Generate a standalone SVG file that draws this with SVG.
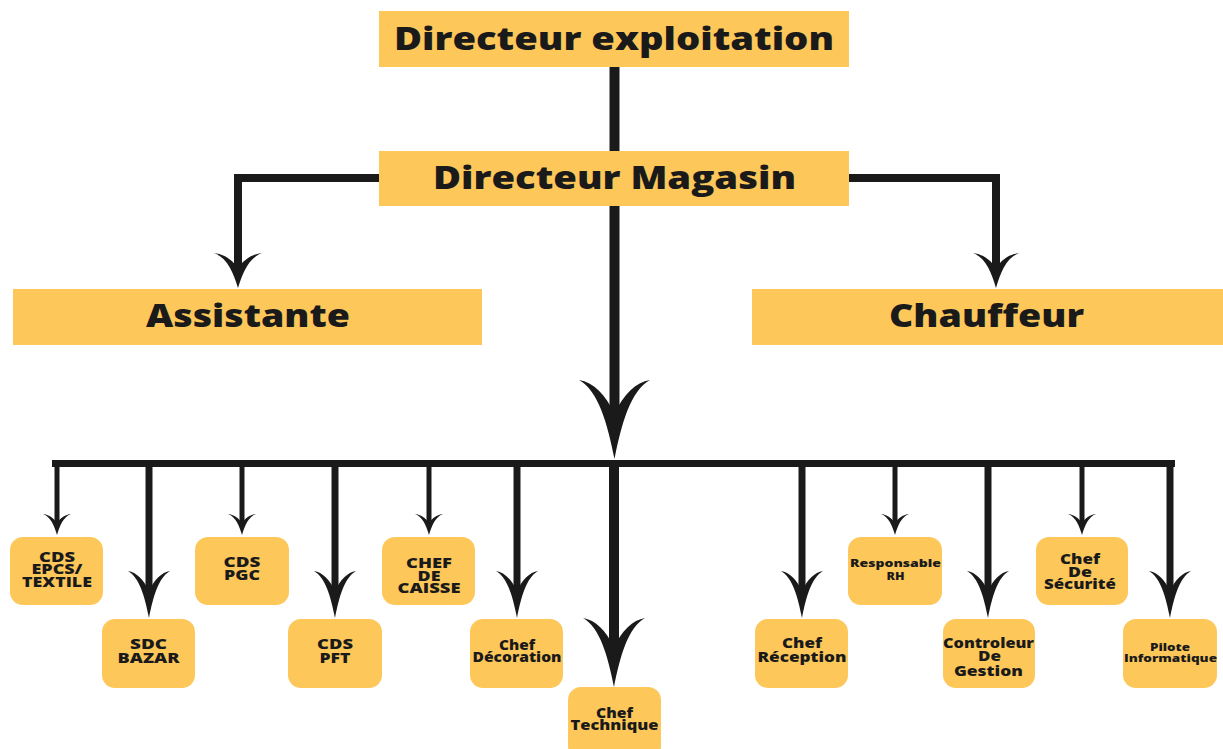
<svg xmlns="http://www.w3.org/2000/svg" xmlns:xlink="http://www.w3.org/1999/xlink" width="1223" height="749" viewBox="0 0 1223 749">
<defs>
<style>
.bx{fill:#FDC75A}
.rb{fill:#FDC75A}
.big{font-family:"Open Sans","Liberation Sans",sans-serif;font-weight:800;fill:#1a1a1a;text-anchor:middle}
.sm{font-family:"Open Sans","Liberation Sans",sans-serif;font-weight:800;fill:#1a1a1a;text-anchor:middle;font-size:13.5px}
.xs{font-size:11px}
.ln{stroke:#1a1a1a;fill:none;stroke-linecap:butt}
.ah{fill:#1a1a1a}
</style>
<path id="ah" d="M0,0 C-0.2,-0.45 -0.45,-0.86 -1,-1 C-0.6,-0.97 -0.25,-0.82 0,-0.57 C0.25,-0.82 0.6,-0.97 1,-1 C0.45,-0.86 0.2,-0.45 0,0 Z"/>
</defs>
<rect width="1223" height="749" fill="#ffffff"/>

<g id="connectors">
<line class="ln" x1="614.5" y1="67" x2="614.5" y2="151" stroke-width="10"/>
<polyline class="ln" points="379,178 238,178 238,270" stroke-width="8"/>
<use href="#ah" class="ah" transform="translate(238,288) scale(24,35)"/>
<polyline class="ln" points="849,178 996,178 996,270" stroke-width="8"/>
<use href="#ah" class="ah" transform="translate(996,288) scale(23,35)"/>
<line class="ln" x1="614.5" y1="206" x2="614.5" y2="420" stroke-width="10"/>
<use href="#ah" class="ah" transform="translate(614.5,459) scale(35.5,79)"/>
<line class="ln" x1="52" y1="463.5" x2="1175" y2="463.5" stroke-width="7"/>
<g stroke-width="5" class="ln">
<line x1="57" y1="467" x2="57" y2="525"/>
<line x1="242" y1="467" x2="242" y2="525"/>
<line x1="429" y1="467" x2="429" y2="525"/>
<line x1="895" y1="467" x2="895" y2="525"/>
<line x1="1082" y1="467" x2="1082" y2="525"/>
</g>
<use href="#ah" class="ah" transform="translate(57,535) scale(14,21)"/>
<use href="#ah" class="ah" transform="translate(242,535) scale(14,21)"/>
<use href="#ah" class="ah" transform="translate(429,535) scale(14,21)"/>
<use href="#ah" class="ah" transform="translate(895,535) scale(14,21)"/>
<use href="#ah" class="ah" transform="translate(1082,535) scale(14,21)"/>
<g stroke-width="7" class="ln">
<line x1="149" y1="467" x2="149" y2="595"/>
<line x1="335" y1="467" x2="335" y2="595"/>
<line x1="517" y1="467" x2="517" y2="595"/>
<line x1="802" y1="467" x2="802" y2="595"/>
<line x1="988" y1="467" x2="988" y2="595"/>
<line x1="1170" y1="467" x2="1170" y2="595"/>
</g>
<use href="#ah" class="ah" transform="translate(149,618) scale(21,47)"/>
<use href="#ah" class="ah" transform="translate(335,618) scale(21,47)"/>
<use href="#ah" class="ah" transform="translate(517,618) scale(21,47)"/>
<use href="#ah" class="ah" transform="translate(802,618) scale(21,47)"/>
<use href="#ah" class="ah" transform="translate(988,618) scale(21,47)"/>
<use href="#ah" class="ah" transform="translate(1170,618) scale(21,47)"/>
<line class="ln" x1="614" y1="467" x2="614" y2="660" stroke-width="10"/>
<use href="#ah" class="ah" transform="translate(614,687) scale(31,69)"/>
</g>

<g id="n-dir-exploit">
<rect class="bx" x="379" y="11" width="470" height="56"/>
<text class="big" x="614" y="50" font-size="32" textLength="440" lengthAdjust="spacingAndGlyphs">Directeur exploitation</text>
</g>
<g id="n-dir-magasin">
<rect class="bx" x="379" y="151" width="470" height="55"/>
<text class="big" x="614.5" y="189" font-size="32" textLength="363" lengthAdjust="spacingAndGlyphs">Directeur Magasin</text>
</g>
<g id="n-assistante">
<rect class="bx" x="13" y="289" width="469" height="56"/>
<text class="big" x="248" y="327" font-size="32" textLength="204" lengthAdjust="spacingAndGlyphs">Assistante</text>
</g>
<g id="n-chauffeur">
<rect class="bx" x="752" y="289" width="471" height="56"/>
<text class="big" x="986.5" y="327" font-size="32" textLength="195" lengthAdjust="spacingAndGlyphs">Chauffeur</text>
</g>

<g id="n-cds-epcs">
<rect class="rb" x="10" y="537" width="93" height="68" rx="13"/>
<text class="sm" x="57" y="562" textLength="36" lengthAdjust="spacingAndGlyphs">CDS</text>
<text class="sm" x="57" y="573.5" textLength="51" lengthAdjust="spacingAndGlyphs">EPCS/</text>
<text class="sm" x="57" y="587" textLength="70" lengthAdjust="spacingAndGlyphs">TEXTILE</text>
</g>
<g id="n-sdc-bazar">
<rect class="rb" x="102" y="619" width="93" height="69" rx="13"/>
<text class="sm" x="148.5" y="649" textLength="37" lengthAdjust="spacingAndGlyphs">SDC</text>
<text class="sm" x="148.5" y="663" textLength="62" lengthAdjust="spacingAndGlyphs">BAZAR</text>
</g>
<g id="n-cds-pgc">
<rect class="rb" x="195" y="537" width="94" height="68" rx="13"/>
<text class="sm" x="242" y="567" textLength="37" lengthAdjust="spacingAndGlyphs">CDS</text>
<text class="sm" x="242" y="580" textLength="36" lengthAdjust="spacingAndGlyphs">PGC</text>
</g>
<g id="n-cds-pft">
<rect class="rb" x="288" y="619" width="94" height="69" rx="13"/>
<text class="sm" x="335" y="649" textLength="36" lengthAdjust="spacingAndGlyphs">CDS</text>
<text class="sm" x="335" y="663" textLength="31" lengthAdjust="spacingAndGlyphs">PFT</text>
</g>
<g id="n-chef-caisse">
<rect class="rb" x="382" y="537" width="93" height="68" rx="13"/>
<text class="sm" x="429" y="568" textLength="46" lengthAdjust="spacingAndGlyphs">CHEF</text>
<text class="sm" x="429" y="581" textLength="23" lengthAdjust="spacingAndGlyphs">DE</text>
<text class="sm" x="429" y="593" textLength="63" lengthAdjust="spacingAndGlyphs">CAISSE</text>
</g>
<g id="n-chef-decoration">
<rect class="rb" x="470" y="619" width="93" height="69" rx="13"/>
<text class="sm" x="517" y="650" textLength="36" lengthAdjust="spacingAndGlyphs">Chef</text>
<text class="sm" x="517" y="662" textLength="89" lengthAdjust="spacingAndGlyphs">Décoration</text>
</g>
<g id="n-chef-technique">
<rect class="rb" x="568" y="687" width="93" height="72" rx="13"/>
<text class="sm" x="614.5" y="718" textLength="37" lengthAdjust="spacingAndGlyphs">Chef</text>
<text class="sm" x="614.5" y="730" textLength="88" lengthAdjust="spacingAndGlyphs">Technique</text>
</g>
<g id="n-chef-reception">
<rect class="rb" x="755" y="619" width="93" height="69" rx="13"/>
<text class="sm" x="802" y="648" textLength="40" lengthAdjust="spacingAndGlyphs">Chef</text>
<text class="sm" x="802" y="662" textLength="89" lengthAdjust="spacingAndGlyphs">Réception</text>
</g>
<g id="n-responsable-rh">
<rect class="rb" x="848" y="537" width="94" height="68" rx="13"/>
<text class="sm xs" x="895.5" y="567" textLength="91" lengthAdjust="spacingAndGlyphs">Responsable</text>
<text class="sm xs" x="895.5" y="580" textLength="18" lengthAdjust="spacingAndGlyphs">RH</text>
</g>
<g id="n-controleur">
<rect class="rb" x="943" y="619" width="92" height="69" rx="13"/>
<text class="sm" x="988.5" y="648" textLength="91" lengthAdjust="spacingAndGlyphs">Controleur</text>
<text class="sm" x="989.5" y="661" textLength="23" lengthAdjust="spacingAndGlyphs">De</text>
<text class="sm" x="988.5" y="676" textLength="69" lengthAdjust="spacingAndGlyphs">Gestion</text>
</g>
<g id="n-chef-securite">
<rect class="rb" x="1036" y="537" width="92" height="68" rx="13"/>
<text class="sm" x="1080" y="564" textLength="40" lengthAdjust="spacingAndGlyphs">Chef</text>
<text class="sm" x="1080" y="577" textLength="24" lengthAdjust="spacingAndGlyphs">De</text>
<text class="sm" x="1080" y="589" textLength="72" lengthAdjust="spacingAndGlyphs">Sécurité</text>
</g>
<g id="n-pilote">
<rect class="rb" x="1123" y="619" width="94" height="69" rx="13"/>
<text class="sm xs" x="1170" y="651" textLength="40" lengthAdjust="spacingAndGlyphs">Pilote</text>
<text class="sm xs" x="1170.5" y="662" textLength="93" lengthAdjust="spacingAndGlyphs">Informatique</text>
</g>
</svg>
